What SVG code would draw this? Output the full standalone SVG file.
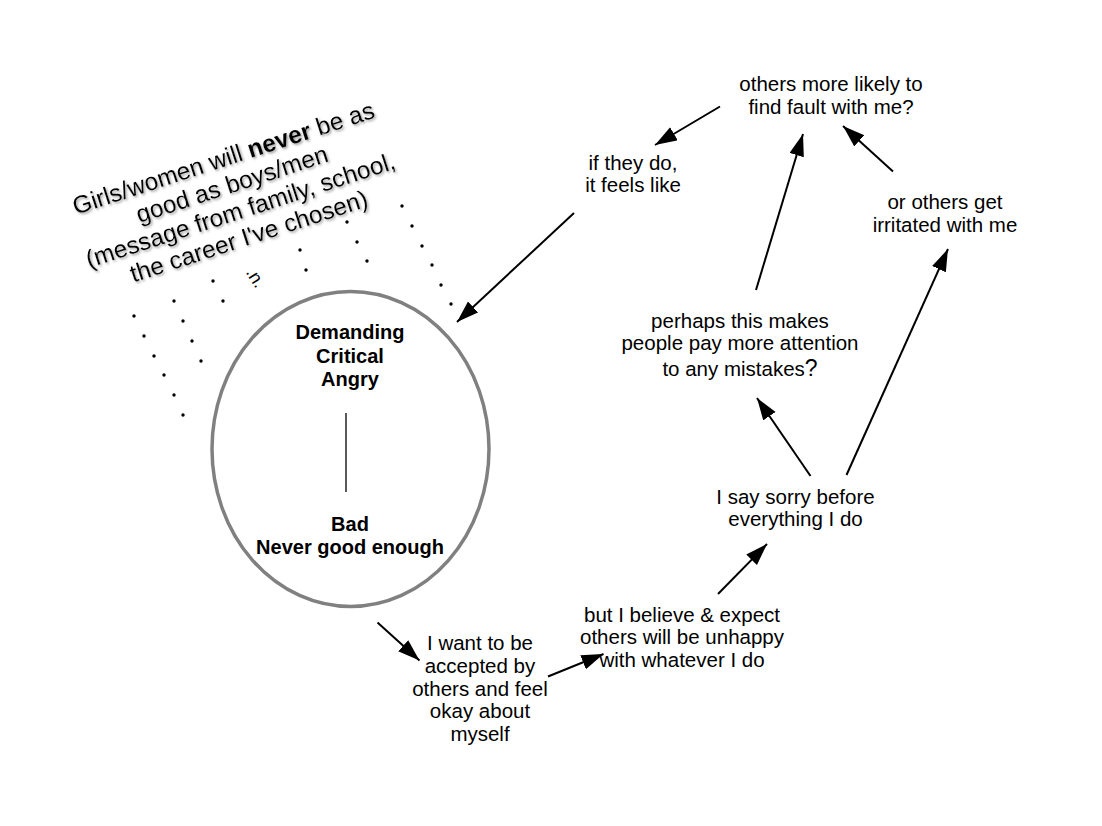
<svg xmlns="http://www.w3.org/2000/svg" width="1102" height="826" viewBox="0 0 1102 826">
<defs>
<style>
text{font-family:"Liberation Sans",Arial,sans-serif;fill:#000}
.t{font-size:20.5px;text-anchor:middle}
.b{font-size:20px;font-weight:bold;text-anchor:middle}
.msg{font-size:24.5px;text-anchor:middle}
.conn line{stroke:#000;stroke-width:2;marker-end:url(#ah)}
.dot{fill:#000}
</style>
<marker id="ah" markerUnits="userSpaceOnUse" markerWidth="24" markerHeight="18" refX="22" refY="7.5" orient="auto">
<path d="M0,0 L22,7.5 L0,15 z" fill="#000"/>
</marker>
<filter id="sh" x="-10%" y="-20%" width="120%" height="140%">
<feDropShadow dx="1.5" dy="1.5" stdDeviation="0.8" flood-color="#888" flood-opacity="0.8"/>
</filter>
</defs>
<rect width="1102" height="826" fill="#fff"/>

<g id="message" filter="url(#sh)">
<g transform="translate(226,166) rotate(-18)">
<text class="msg" x="0" y="0">Girls/women will <tspan font-weight="bold">never</tspan> be as</text>
<text class="msg" x="0" y="27.4">good as boys/men</text>
<text class="msg" x="0" y="54.8">(message from family, school,</text>
<text class="msg" x="0" y="82.2">the career I've chosen)</text>
</g>
</g>

<g id="dots">
<circle class="dot" cx="134" cy="316" r="1.7"/>
<circle class="dot" cx="144" cy="336" r="1.7"/>
<circle class="dot" cx="154" cy="356" r="1.7"/>
<circle class="dot" cx="164" cy="375" r="1.7"/>
<circle class="dot" cx="174" cy="395" r="1.7"/>
<circle class="dot" cx="183" cy="415" r="1.7"/>
<circle class="dot" cx="174" cy="301" r="1.7"/>
<circle class="dot" cx="183" cy="321" r="1.7"/>
<circle class="dot" cx="192" cy="341" r="1.7"/>
<circle class="dot" cx="201" cy="361" r="1.7"/>
<circle class="dot" cx="213" cy="281" r="1.7"/>
<circle class="dot" cx="223" cy="301" r="1.7"/>
<circle class="dot" cx="300" cy="250" r="1.7"/>
<circle class="dot" cx="306" cy="270" r="1.7"/>
<circle class="dot" cx="347" cy="222" r="1.7"/>
<circle class="dot" cx="357" cy="242" r="1.7"/>
<circle class="dot" cx="367" cy="261" r="1.7"/>
<circle class="dot" cx="402" cy="206" r="1.7"/>
<circle class="dot" cx="412" cy="226" r="1.7"/>
<circle class="dot" cx="422" cy="246" r="1.7"/>
<circle class="dot" cx="432" cy="265" r="1.7"/>
<circle class="dot" cx="441" cy="285" r="1.7"/>
<circle class="dot" cx="451" cy="304" r="1.7"/>
<text transform="translate(255,278) rotate(58)" x="0" y="5" font-size="18" text-anchor="middle">.n.</text>
</g>

<g id="self">
<ellipse cx="350.5" cy="449" rx="138.5" ry="157.5" fill="none" stroke="#808080" stroke-width="3.5"/>
<text class="b" x="350" y="339">Demanding</text>
<text class="b" x="350" y="362.5">Critical</text>
<text class="b" x="350" y="386">Angry</text>
<line x1="346" y1="413" x2="346" y2="492" stroke="#000" stroke-width="1.3"/>
<text class="b" x="350" y="531">Bad</text>
<text class="b" x="350" y="554">Never good enough</text>
</g>

<g id="n-fault">
<text class="t" x="831" y="91">others more likely to</text>
<text class="t" x="831" y="113.5">find fault with me?</text>
</g>
<g id="n-ifthey">
<text class="t" x="633" y="170">if they do,</text>
<text class="t" x="633" y="192">it feels like</text>
</g>
<g id="n-irritated">
<text class="t" x="945" y="208.5">or others get</text>
<text class="t" x="945" y="231.5">irritated with me</text>
</g>
<g id="n-perhaps">
<text class="t" x="740" y="327.5">perhaps this makes</text>
<text class="t" x="740" y="350">people pay more attention</text>
<text class="t" x="740" y="375.5">to any mistakes<tspan font-size="23">?</tspan></text>
</g>
<g id="n-sorry">
<text class="t" x="795.5" y="503.5">I say sorry before</text>
<text class="t" x="795.5" y="526">everything I do</text>
</g>
<g id="n-believe">
<text class="t" x="682" y="621.5">but I believe &amp; expect</text>
<text class="t" x="682" y="644">others will be unhappy</text>
<text class="t" x="682" y="667">with whatever I do</text>
</g>
<g id="n-want">
<text class="t" x="480" y="650">I want to be</text>
<text class="t" x="480" y="672.7">accepted by</text>
<text class="t" x="480" y="695.5">others and feel</text>
<text class="t" x="480" y="718.3">okay about</text>
<text class="t" x="480" y="741">myself</text>
</g>

<g id="connectors" class="conn">
<line x1="720" y1="106.5" x2="655" y2="145"/>
<line x1="574" y1="213" x2="457" y2="322"/>
<line x1="756" y1="290" x2="803" y2="134"/>
<line x1="893" y1="171.5" x2="843" y2="126"/>
<line x1="810.5" y1="476" x2="757" y2="398"/>
<line x1="846.5" y1="475" x2="948" y2="249"/>
<line x1="718" y1="594" x2="767" y2="544"/>
<line x1="548" y1="676.5" x2="603.5" y2="654"/>
<line x1="377.5" y1="622.5" x2="419.5" y2="660.5"/>
</g>
</svg>
